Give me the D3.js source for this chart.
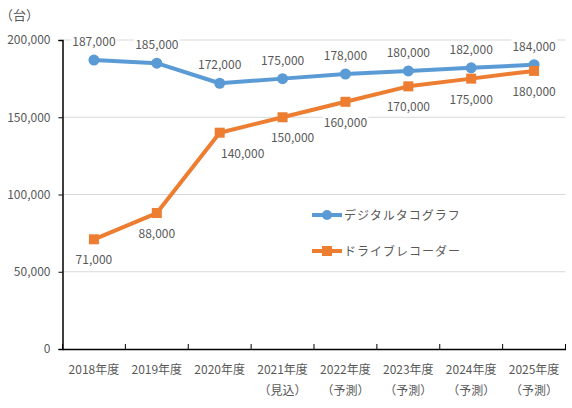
<!DOCTYPE html>
<html><head><meta charset="utf-8">
<script src="https://cdn.jsdelivr.net/npm/d3@7"></script>
<style>
body{margin:0;background:#fff;}
text{font-family:"Noto Sans CJK JP","Noto Sans",sans-serif;fill:#595959;}
</style></head>
<body><svg id="c" width="572" height="408"></svg>
<script>
const categories = ["2018年度","2019年度","2020年度","2021年度","2022年度","2023年度","2024年度","2025年度"];
const subLabels = ["","","","（見込）","（予測）","（予測）","（予測）","（予測）"];
const digitalTacho = [187000,185000,172000,175000,178000,180000,182000,184000];
const driveRecorder = [71000,88000,140000,150000,160000,170000,175000,180000];
const yTicks = [0,50000,100000,150000,200000];
const seriesNames = ["デジタルタコグラフ","ドライブレコーダー"];
const colors = ["#5B9BD5","#ED7D31"];

const svg = d3.select("#c");
const L = 62.5, R = 565.5, T = 40, B = 349;
const x = d3.scaleBand().domain(categories).range([L,R]);
const y = d3.scaleLinear().domain([0,200000]).range([B,T]);
const fmt = d3.format(",");

// gridlines
svg.append("g").selectAll("line").data(yTicks.filter(d=>d>0)).join("line")
  .attr("x1",L).attr("x2",R).attr("y1",d=>y(d)).attr("y2",d=>y(d))
  .attr("stroke","#d9d9d9").attr("stroke-width",1);

// y axis
const ya = svg.append("g").attr("transform",`translate(${L},0)`)
  .call(d3.axisLeft(y).tickValues(yTicks).tickFormat(fmt).tickSize(4).tickPadding(8));
ya.select(".domain").attr("stroke","#000").attr("stroke-width",1.5);
ya.selectAll(".tick line").attr("stroke","#000");
ya.selectAll("text").style("font-size","12px").attr("fill","#595959");

// x axis
const xa = svg.append("g").attr("transform",`translate(0,${B})`)
  .call(d3.axisBottom(x).tickSize(0).tickFormat(""));
xa.select(".domain").attr("stroke","#000").attr("stroke-width",1.5);
svg.append("g").selectAll("line").data(d3.range(categories.length+1))
  .join("line")
  .attr("x1",i=>L+i*x.step()).attr("x2",i=>L+i*x.step())
  .attr("y1",B).attr("y2",B-5).attr("stroke","#000").attr("stroke-width",1);
svg.append("g").selectAll("text").data(categories).join("text")
  .attr("x",d=>x(d)+x.bandwidth()/2).attr("y",374).attr("text-anchor","middle")
  .style("font-size","12px").text(d=>d);
svg.append("g").selectAll("text").data(subLabels).join("text")
  .attr("x",(d,i)=>x(categories[i])+x.bandwidth()/2).attr("y",395).attr("text-anchor","middle")
  .style("font-size","12px").text(d=>d);

// unit
svg.append("text").attr("x",0).attr("y",20).style("font-size","13px").text("（台）");

const cx = (d,i)=>x(categories[i])+x.bandwidth()/2;
const line = d3.line().x((d,i)=>cx(d,i)).y(d=>y(d));

// series
[driveRecorder, digitalTacho].forEach((data,k)=>{
  const idx = k===0?1:0;
  svg.append("path").datum(data).attr("d",line).attr("fill","none")
    .attr("stroke",colors[idx]).attr("stroke-width",4).attr("stroke-linejoin","round");
});
svg.append("g").selectAll("circle").data(digitalTacho).join("circle")
  .attr("cx",cx).attr("cy",d=>y(d)).attr("r",5.5).attr("fill",colors[0]);
svg.append("g").selectAll("rect").data(driveRecorder).join("rect")
  .attr("x",(d,i)=>cx(d,i)-5).attr("y",d=>y(d)-5).attr("width",10).attr("height",10).attr("fill",colors[1]);

// data labels (with white background like the original)
function labels(data, dy, dxFn){
  const g = svg.append("g");
  data.forEach((d,i)=>{
    const t = g.append("text").attr("x",cx(d,i)+dxFn(i)).attr("y",y(d)+dy)
      .attr("text-anchor","middle").style("font-size","12px").text(fmt(d));
    const bb = t.node().getBBox();
    g.insert("rect","text").attr("x",bb.x-1).attr("y",bb.y+2).attr("width",bb.width+2)
      .attr("height",bb.height-4).attr("fill","#fff");
  });
}
labels(digitalTacho, -14, ()=>0);
const orangeShift = [0,0,23,10,0,0,0,0];
labels(driveRecorder, 25, i=>orangeShift[i]);

// legend
const lg = svg.append("g");
[215,251].forEach((ly,i)=>{
  lg.append("line").attr("x1",312).attr("x2",342).attr("y1",ly).attr("y2",ly)
    .attr("stroke",colors[i]).attr("stroke-width",4);
  if(i===0) lg.append("circle").attr("cx",327).attr("cy",ly).attr("r",5).attr("fill",colors[i]);
  else lg.append("rect").attr("x",322).attr("y",ly-5).attr("width",10).attr("height",10).attr("fill",colors[i]);
  lg.append("text").attr("x",344).attr("y",ly+4.5).style("font-size","12px")
    .style("letter-spacing","1px").text(seriesNames[i]);
});
</script></body></html>
